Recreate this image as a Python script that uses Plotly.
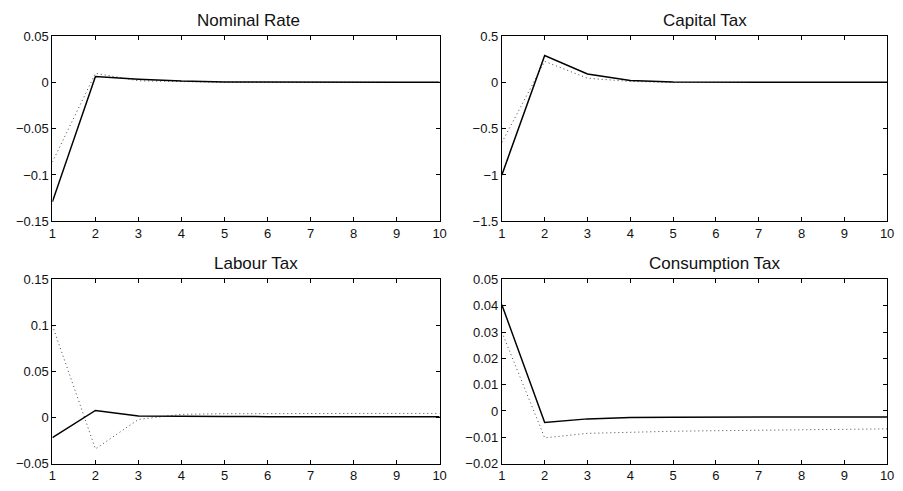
import plotly.graph_objects as go

periods = [1, 2, 3, 4, 5, 6, 7, 8, 9, 10]

nominal_solid = [-0.129, 0.0063, 0.0035, 0.0014, 0.0005, 0.0002, 0.0001, 0.0, 0.0, 0.0]
nominal_dotted = [-0.086, 0.0098, 0.0017, 0.0005, 0.0001, 0.0, 0.0, 0.0, 0.0, 0.0]

capital_solid = [-1.0, 0.29, 0.09, 0.02, 0.003, 0.0, 0.0, 0.0, 0.0, 0.0]
capital_dotted = [-0.65, 0.227, 0.045, 0.01, 0.0, 0.0, 0.0, 0.0, 0.0, 0.0]

labour_solid = [-0.0218, 0.0077, 0.0018, 0.0012, 0.0011, 0.001, 0.001, 0.001, 0.001, 0.001]
labour_dotted = [0.1, -0.034, -0.002, 0.0035, 0.0042, 0.0045, 0.0045, 0.0045, 0.0045, 0.0045]

consumption_solid = [0.0404, -0.0044, -0.003, -0.0025, -0.0024, -0.0023, -0.0023, -0.0023, -0.0023, -0.0023]
consumption_dotted = [0.03, -0.0102, -0.0085, -0.008, -0.0077, -0.0075, -0.0073, -0.0071, -0.0069, -0.0068]

titles = ["Nominal Rate", "Capital Tax", "Labour Tax", "Consumption Tax"]
y_ranges = [[-0.15, 0.05], [-1.5, 0.5], [-0.05, 0.15], [-0.02, 0.05]]
y_dticks = [0.05, 0.5, 0.05, 0.01]

W, H = 903, 491
x_doms = [[49 / W, 441 / W], [504 / W, 894 / W]]
y_doms = [[1 - 221 / H, 1 - 30 / H], [1 - 471 / H, 1 - 281 / H]]
title_x_px = [248, 710, 255, 720]

series = [
    (nominal_solid, nominal_dotted),
    (capital_solid, capital_dotted),
    (labour_solid, labour_dotted),
    (consumption_solid, consumption_dotted),
]

fig = go.Figure()
font = dict(family="Liberation Sans, Arial, Helvetica, sans-serif", size=13, color="#111111")
layout = {}
annotations = []
for i, (solid, dotted) in enumerate(series):
    r, c = divmod(i, 2)
    n = "" if i == 0 else str(i + 1)
    xa, ya = "x" + n, "y" + n
    fig.add_trace(go.Scatter(x=periods, y=dotted, mode="lines", xaxis=xa, yaxis=ya,
                             line=dict(color="#444444", width=1, dash="1px,3px"), showlegend=False))
    fig.add_trace(go.Scatter(x=periods, y=solid, mode="lines", xaxis=xa, yaxis=ya,
                             line=dict(color="black", width=1.5), showlegend=False))
    axis_common = dict(showgrid=False, zeroline=False, showline=True, linecolor="black",
                       linewidth=1, mirror="ticks", ticks="inside", ticklen=4,
                       tickcolor="black", tickfont=font)
    layout["xaxis" + n] = dict(domain=x_doms[c], anchor=ya, range=[1, 10], tickmode="linear",
                               tick0=1, dtick=1, **axis_common)
    layout["yaxis" + n] = dict(domain=y_doms[r], anchor=xa, range=y_ranges[i], tickmode="linear",
                               tick0=y_ranges[i][0], dtick=y_dticks[i], **axis_common)
    annotations.append(dict(text=titles[i], xref="paper", yref="paper",
                            x=title_x_px[i] / W, y=y_doms[r][1],
                            xanchor="center", yanchor="bottom", yshift=4, showarrow=False,
                            font=dict(family="Liberation Sans, Arial, sans-serif", size=17, color="#111111")))

fig.update_layout(width=W, height=H, margin=dict(l=0, r=0, t=0, b=0),
                  paper_bgcolor="white", plot_bgcolor="white", annotations=annotations, **layout)
fig.write_html("out.html", config={"displayModeBar": False},
               post_script="document.body.style.margin='0';document.body.style.overflow='hidden';")
